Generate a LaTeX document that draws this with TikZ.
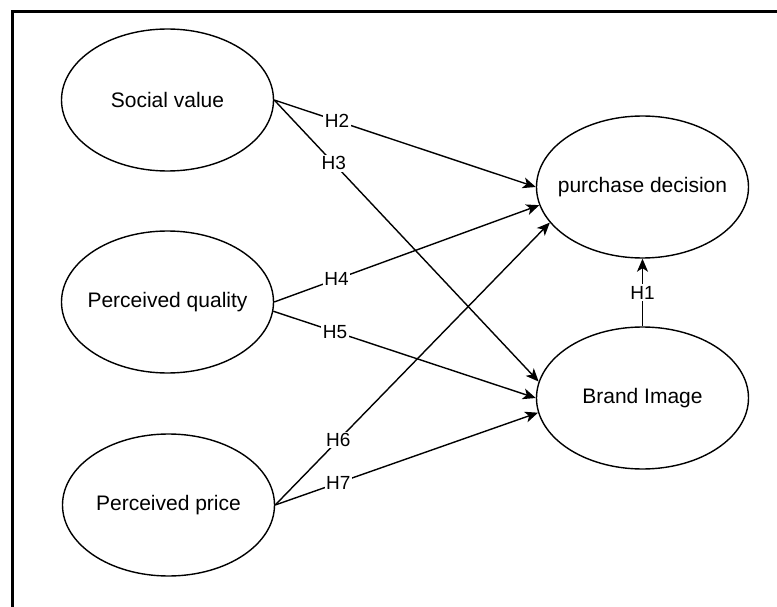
\documentclass[tikz,border=0pt]{standalone}
\usepackage{fontspec}
\setmainfont{Liberation Sans}
\usetikzlibrary{shapes.geometric,arrows.meta}

\newcommand{\ctext}[1]{\makebox[0pt]{#1}}

\begin{document}
\begin{tikzpicture}[x=1pt,y=-1pt,
  construct/.style={draw,ellipse,line width=1.4pt,minimum width=212pt,minimum height=142pt,inner sep=0pt,font=\fontsize{21}{25}\selectfont},
  hyp/.style={-{Stealth[length=13pt,width=11pt,inset=3.5pt]},line width=1.4pt},
  hlabel/.style={fill=white,inner sep=1.5pt,font=\fontsize{19}{22}\selectfont}]
\useasboundingbox (0,0) rectangle (777,607);
\draw[line width=2.8pt] (777,11.5) -- (12.5,11.5) -- (12.5,607);

\node[construct] (social) at (167.5,100) {\ctext{Social value}};
\node[construct] (quality) at (167.5,302) {\ctext{Perceived quality}};
\node[construct] (price) at (168.5,505) {\ctext{Perceived price}};
\node[construct] (decision) at (642.5,187) {\ctext{purchase decision}};
\node[construct] (brand) at (642.5,398) {\ctext{Brand Image}};

\draw[hyp] (brand.north) -- node[hlabel] (h1) {H1} (decision.south);
\draw[hyp] (social.east) -- node[hlabel,pos=0.24] (h2) {H2} (decision.west);
\draw[hyp] (social.east) -- node[hlabel,pos=0.225] (h3) {H3} (brand.171);
\draw[hyp] (quality.east) -- node[hlabel,pos=0.235] (h4) {H4} (decision.190);
\draw[hyp] (quality.-5) -- node[hlabel,pos=0.235] (h5) {H5} (brand.west);
\draw[hyp] (price.east) -- node[hlabel,pos=0.23] (h6) {H6} (decision.201);
\draw[hyp] (price.east) -- node[hlabel,pos=0.24] (h7) {H7} (brand.188);
\end{tikzpicture}
\end{document}
